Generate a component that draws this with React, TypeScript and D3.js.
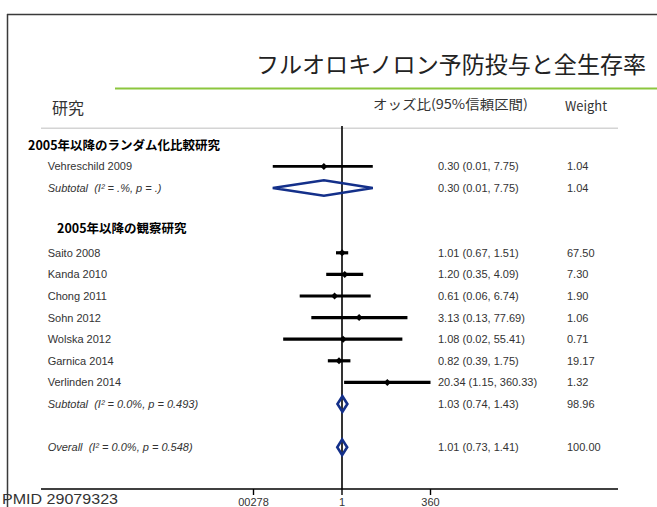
import React from "react";
import * as d3 from "d3";

// ---- data ----
const title = "フルオロキノロン予防投与と全生存率";
const colStudy = "研究";
const colOR = "オッズ比(95%信頼区間)";
const colWeight = "Weight";
const groupNames = ["2005年以降のランダム化比較研究", "2005年以降の観察研究"];
const studies = [
  "Vehreschild 2009",
  "Saito 2008",
  "Kanda 2010",
  "Chong 2011",
  "Sohn 2012",
  "Wolska 2012",
  "Garnica 2014",
  "Verlinden 2014",
];
const studyGroup = [0, 1, 1, 1, 1, 1, 1, 1];
const studyOR = [0.3, 1.01, 1.2, 0.61, 3.13, 1.08, 0.82, 20.34];
const studyLo = [0.01, 0.67, 0.35, 0.06, 0.13, 0.02, 0.39, 1.15];
const studyHi = [7.75, 1.51, 4.09, 6.74, 77.69, 55.41, 1.75, 360.33];
const studyW = [1.04, 67.5, 7.3, 1.9, 1.06, 0.71, 19.17, 1.32];
const subLabels = ["Subtotal  (I² = .%, p = .)", "Subtotal  (I² = 0.0%, p = 0.493)"];
const subOR = [0.3, 1.03];
const subLo = [0.01, 0.74];
const subHi = [7.75, 1.43];
const subW = [1.04, 98.96];
const overallLabel = "Overall  (I² = 0.0%, p = 0.548)";
const overallOR = 1.01;
const overallLo = 0.73;
const overallHi = 1.41;
const overallW = 100.0;
const tickValues = [1 / 360, 1, 360];
const tickLabels = ["00278", "1", "360"];
const footer = "PMID 29079323";

// ---- layout constants ----
const W = 657;
const H = 507;
const headerX = [28, 57];
const headerDy = [0, -3];
const NAVY = "#14308a";
const TXT = "#333";

type Row =
  | { kind: "header"; g: number }
  | { kind: "study"; i: number }
  | { kind: "sub"; g: number }
  | { kind: "blank" }
  | { kind: "overall" };

function buildRows(): Row[] {
  const rows: Row[] = [];
  groupNames.forEach((_, g) => {
    rows.push({ kind: "header", g });
    studies.forEach((_, i) => {
      if (studyGroup[i] === g) rows.push({ kind: "study", i });
    });
    rows.push({ kind: "sub", g });
    rows.push({ kind: "blank" });
  });
  rows.push({ kind: "overall" });
  return rows;
}

const fmt = (v: number) => v.toFixed(2);
const ciText = (o: number, l: number, h: number) => `${fmt(o)} (${fmt(l)}, ${fmt(h)})`;

export default function App() {
  const rows = buildRows();
  const x = d3.scaleLog().domain([1 / 360, 360]).range([253.5, 430.5]);
  const y = d3.scaleLinear().domain([0, rows.length - 1]).range([144.8, 447.2]);
  const axisY = 489;
  const plotLeft = 41;
  const plotRight = 618;
  const labelX = 47.7;
  const estX = 438;
  const wX = 567;
  const sans = "'Liberation Sans', Arial, sans-serif";
  const jp = "'Noto Sans CJK JP', sans-serif";

  const diamond = (cx: number, cy: number, l: number, r: number, h: number) =>
    `M${l},${cy} L${cx},${cy - h} L${r},${cy} L${cx},${cy + h} Z`;

  return (
    <svg
      width={W}
      height={H}
      style={{ position: "absolute", left: 0, top: 0, background: "#fff" }}
    >
      <rect x={0} y={0} width={W} height={H} fill="#fff" />
      {/* frame */}
      <line x1={7} y1={14.5} x2={W} y2={14.5} stroke="#3a3a3a" strokeWidth={1.5} />
      <line x1={7.5} y1={14} x2={7.5} y2={H} stroke="#3a3a3a" strokeWidth={1.5} />
      {/* title */}
      <text x={256} y={73} fontFamily={jp} fontSize={23} fill="#222" textLength={390} lengthAdjust="spacingAndGlyphs">
        {title}
      </text>
      <line x1={115} y1={88.5} x2={W} y2={88.5} stroke="#8cc63e" strokeWidth={2.2} />
      {/* column headers */}
      <text x={52} y={114} fontFamily={jp} fontSize={16} fill={TXT}>
        {colStudy}
      </text>
      <text x={373} y={109} fontFamily={jp} fontSize={13} fill={TXT} textLength={155} lengthAdjust="spacingAndGlyphs">
        {colOR}
      </text>
      <text x={565} y={111} fontFamily={jp} fontSize={13.5} fill={TXT} textLength={42} lengthAdjust="spacingAndGlyphs">
        {colWeight}
      </text>
      <line x1={plotLeft} y1={128.3} x2={plotRight} y2={128.3} stroke="#d4d4d4" strokeWidth={1.6} />
      {/* null line */}
      <line x1={x(1)} y1={126} x2={x(1)} y2={axisY} stroke="#000" strokeWidth={1.6} />
      {/* rows */}
      {rows.map((r, k) => {
        const cy = y(k);
        if (r.kind === "header") {
          return (
            <text key={k} x={headerX[r.g]} y={cy + headerDy[r.g] + 4.7} fontFamily={jp} fontWeight="bold" fontSize={12.5} fill="#000">
              {groupNames[r.g]}
            </text>
          );
        }
        if (r.kind === "study") {
          const i = r.i;
          const px = x(studyOR[i]);
          return (
            <g key={k}>
              <text x={labelX} y={cy + 3.9} fontFamily={sans} fontSize={11} fill={TXT}>
                {studies[i]}
              </text>
              <line x1={x(studyLo[i])} x2={x(studyHi[i])} y1={cy} y2={cy} stroke="#000" strokeWidth={i === 0 ? 2.6 : 3.2} />
              <path d={diamond(px, cy, px - 3.5, px + 3.5, 3.5)} fill="#000" />
              <text x={estX} y={cy + 3.9} fontFamily={sans} fontSize={11} fill={TXT}>
                {ciText(studyOR[i], studyLo[i], studyHi[i])}
              </text>
              <text x={wX} y={cy + 3.9} fontFamily={sans} fontSize={11} fill={TXT}>
                {fmt(studyW[i])}
              </text>
            </g>
          );
        }
        if (r.kind === "sub" || r.kind === "overall") {
          const o = r.kind === "sub" ? subOR[r.g] : overallOR;
          const l = r.kind === "sub" ? subLo[r.g] : overallLo;
          const h = r.kind === "sub" ? subHi[r.g] : overallHi;
          const w = r.kind === "sub" ? subW[r.g] : overallW;
          const lab = r.kind === "sub" ? subLabels[r.g] : overallLabel;
          return (
            <g key={k}>
              <text x={labelX} y={cy + 3.9} fontFamily={sans} fontSize={11} fontStyle="italic" fill={TXT} style={{ whiteSpace: "pre" }}>
                {lab}
              </text>
              <path d={diamond(x(o), cy, x(l), x(h), 7.8)} fill="none" stroke={NAVY} strokeWidth={2.6} strokeLinejoin="miter" />
              <text x={estX} y={cy + 3.9} fontFamily={sans} fontSize={11} fill={TXT}>
                {ciText(o, l, h)}
              </text>
              <text x={wX} y={cy + 3.9} fontFamily={sans} fontSize={11} fill={TXT}>
                {fmt(w)}
              </text>
            </g>
          );
        }
        return null;
      })}
      {/* axis */}
      <line x1={plotLeft} y1={axisY} x2={plotRight} y2={axisY} stroke="#000" strokeWidth={1.6} />
      {tickValues.map((t, i) => (
        <g key={i}>
          <line x1={x(t)} x2={x(t)} y1={axisY} y2={axisY + 6} stroke="#000" strokeWidth={1.4} />
          <text x={x(t)} y={axisY + 16.5} textAnchor="middle" fontFamily={sans} fontSize={11} fill={TXT}>
            {tickLabels[i]}
          </text>
        </g>
      ))}
      {/* footer */}
      <text x={2} y={504} fontFamily={sans} fontSize={15} fill="#333" textLength={116} lengthAdjust="spacingAndGlyphs">
        {footer}
      </text>
    </svg>
  );
}
